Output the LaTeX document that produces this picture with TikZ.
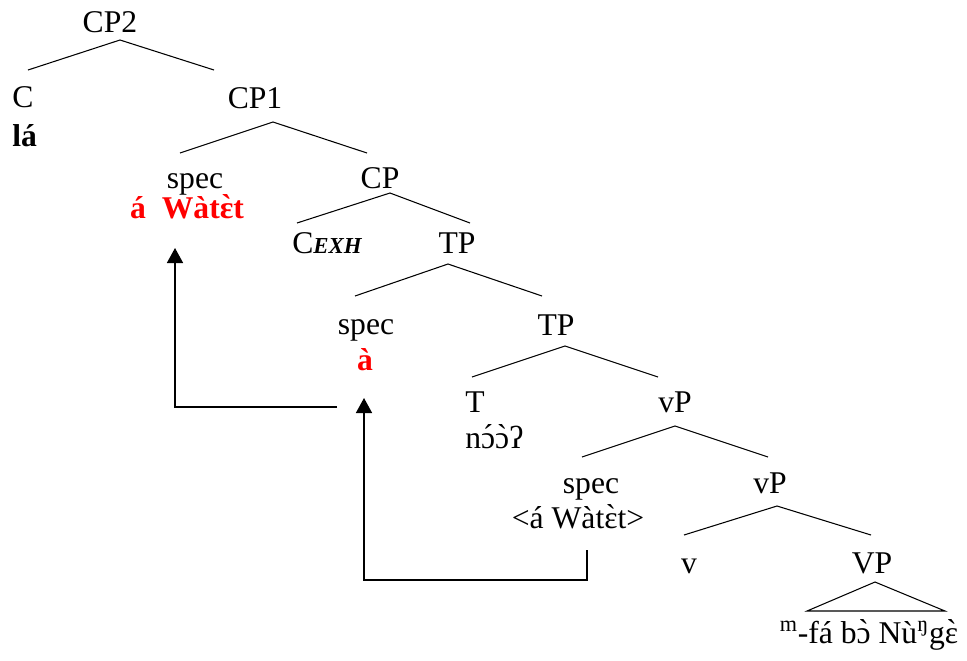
\documentclass[tikz,border=0pt]{standalone}
\usepackage{fontspec}
\setmainfont{Liberation Serif}
\usetikzlibrary{arrows.meta}
\newcommand\ekezet[2]{\ooalign{#1\cr\hidewidth\raisebox{0.06em}{\addfontfeature{Ligatures=TeXOff}#2}\hidewidth\cr}}
\tikzset{
  cimke/.style={inner sep=0pt,anchor=base,font=\fontsize{18}{20}\selectfont},
  bal/.style={cimke,anchor=base west},
  vastag/.style={cimke,font=\fontsize{18}{20}\selectfont\bfseries},
  piros/.style={vastag,text=red},
  ag/.style={line width=0.6pt},
  nyil/.style={-{Triangle[width=3.2mm,length=3mm]},line width=0.9pt},
}

\begin{document}
\begin{tikzpicture}[x=0.2mm,y=-0.2mm]
  \useasboundingbox (0,0) rectangle (967,660);
  % csomopontok
  \node[cimke] (cp2) at (110,32) {CP2};
  \node[bal] (c) at (12,107) {C};
  \node[vastag,anchor=base west] (la) at (12,146) {lá};
  \node[cimke] (cp1) at (255,108) {CP1};
  \node[cimke] (spec1) at (195,188) {spec};
  \node[piros] (wat1) at (187,218) {á\hspace{9pt}Wàt\ekezet{ɛ}{`}t};
  \node[cimke] (cp) at (380,188) {CP};
  \node[bal] (cexh) at (292,253) {C{\fontsize{13}{15}\selectfont\bfseries\itshape EXH}};
  \node[cimke] (tp1) at (457,253) {TP};
  \node[cimke] (spec2) at (366,334) {spec};
  \node[piros] (a) at (365,370) {à};
  \node[cimke] (tp2) at (556,335) {TP};
  \node[bal] (t) at (465,412) {T};
  \node[bal] (noo) at (465,448) {n\ekezet{ɔ}{´}\ekezet{ɔ}{`}ʔ};
  \node[cimke] (vp1) at (675,412) {vP};
  \node[cimke] (spec3) at (591,493) {spec};
  \node[cimke] (wat2) at (578,528) {<á Wàt\ekezet{ɛ}{`}t>};
  \node[cimke] (vp2) at (770,493) {vP};
  \node[cimke] (v) at (689,573) {v};
  \node[cimke] (vp3) at (872,573) {VP};
  \node[cimke] (ige) at (869,643) {\textsuperscript{m}-fá b\ekezet{ɔ}{`} Nù\textsuperscript{ŋ}g\ekezet{ɛ}{`}};
  % agak
  \foreach \nev/\ax/\ay/\lx/\rx/\ly in {cp2/120/40/28/214/70, cp1/273/122/180/367/153,
      cp/390/193/297/470/223, tp1/448/264/355/542/296, tp2/565/346/472/658/377,
      vp1/675/426/582/768/457, vp2/777/506/684/871/535} {
    \coordinate (\nev-a) at (\ax,\ay);
    \coordinate (\nev-l) at (\lx,\ly);
    \coordinate (\nev-r) at (\rx,\ly);
    \draw[ag] (\nev-l) -- (\nev-a) -- (\nev-r);
  }
  % haromszog
  \coordinate (vp3-a) at (875,582);
  \coordinate (vp3-l) at (807,611);
  \coordinate (vp3-r) at (945,611);
  \draw[ag] (vp3-a) -- (vp3-l) -- (vp3-r) -- cycle;
  % mozgas
  \coordinate (ny1-k) at (337,407); \coordinate (ny1-v) at (175,248);
  \draw[nyil] (ny1-k) -| (ny1-v);
  \coordinate (ny2-k) at (587,550); \coordinate (ny2-v) at (364,398);
  \draw[nyil] (ny2-k) -- ++(0,30) -| (ny2-v);
\end{tikzpicture}
\end{document}
